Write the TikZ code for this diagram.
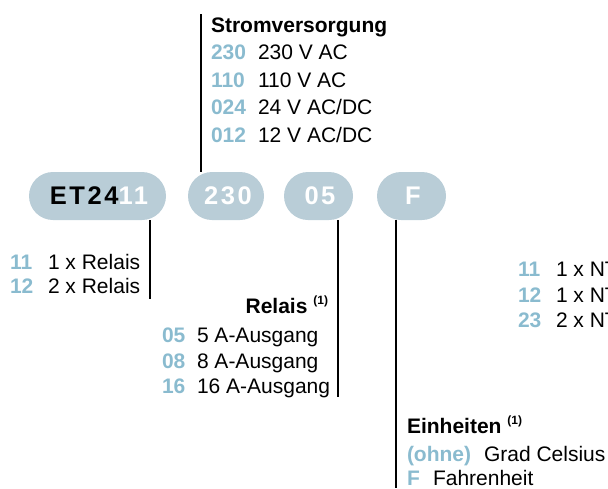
\documentclass[tikz,border=0pt]{standalone}
\usepackage{fontspec}
\setmainfont{Liberation Sans}
\definecolor{pillfill}{HTML}{B9CDD7}
\definecolor{codeblue}{HTML}{8ABBCF}
\begin{document}
\begin{tikzpicture}[x=1pt,y=-1pt,
  every node/.style={inner sep=0pt,outer sep=0pt,font=\fontsize{21}{24}\selectfont},
  pill/.style={fill=pillfill,draw=none,rounded corners=24pt},
  pilltext/.style={anchor=center,text=white,font=\fontsize{25.5}{28}\selectfont\bfseries\addfontfeature{LetterSpace=10}},
  code/.style={anchor=base west,text=codeblue,font=\fontsize{21}{24}\selectfont\bfseries},
  desc/.style={anchor=base west,text=black},
  head/.style={text=black,font=\fontsize{21}{24}\selectfont\bfseries},
  supnote/.style={font=\fontsize{12}{14}\selectfont\bfseries},
  bar/.style={line width=2pt,black}
]
\useasboundingbox (0,0) rectangle (608,488);
\clip (0,0) rectangle (608,488);
% pills
\fill[pill] (29,172) rectangle (166,220);
\fill[pill] (188,172) rectangle (264,220);
\fill[pill] (284,172) rectangle (353,220);
\fill[pill] (377,172) rectangle (446,220);
\node[pilltext] (pA) at (99,196) {\textcolor{black}{ET24}11};
\node[pilltext] (pB) at (228,196) {230};
\node[pilltext] (pC) at (320,196) {05};
\node[pilltext] (pD) at (413,196) {F};
% anchor coordinates for bars
\coordinate (sTop) at (201,14);
\coordinate (sBot) at (201,172);
\coordinate (aTop) at (150,220);
\coordinate (aBot) at (150,299);
\coordinate (cTop) at (338,220);
\coordinate (cBot) at (338,397);
\coordinate (dTop) at (396,220);
\coordinate (dBot) at (396,488);
\draw[bar] (sTop) -- (sBot);
\draw[bar] (aTop) -- (aBot);
\draw[bar] (cTop) -- (cBot);
\draw[bar] (dTop) -- (dBot);
% Stromversorgung
\node[head,anchor=base west] (sh) at (211,32) {Stromversorgung};
\node[code] (s1c) at (211,59) {230}; \node[desc] (s1d) at (258,59) {230 V AC};
\node[code] (s2c) at (211,87) {110}; \node[desc] (s2d) at (258,87) {110 V AC};
\node[code] (s3c) at (211,114.5) {024}; \node[desc] (s3d) at (258,114.5) {24 V AC/DC};
\node[code] (s4c) at (211,142) {012}; \node[desc] (s4d) at (258,142) {12 V AC/DC};
% Relais count
\node[code] (a1c) at (10,269) {11}; \node[desc] (a1d) at (48,269) {1 x Relais};
\node[code] (a2c) at (10,293) {12}; \node[desc] (a2d) at (48,293) {2 x Relais};
% Relais output
\node[head,anchor=base east] (ch) at (328,313) {Relais \raisebox{0.42em}{\fontsize{12}{14}\selectfont\bfseries (1)}};
\node[code] (c1c) at (162,342) {05}; \node[desc] (c1d) at (197,342) {5 A-Ausgang};
\node[code] (c2c) at (162,368) {08}; \node[desc] (c2d) at (197,368) {8 A-Ausgang};
\node[code] (c3c) at (162,393) {16}; \node[desc] (c3d) at (197,393) {16 A-Ausgang};
% NT
\node[code] (n1c) at (518,276) {11}; \node[desc] (n1d) at (556,276) {1 x NT};
\node[code] (n2c) at (518,302) {12}; \node[desc] (n2d) at (556,302) {1 x NT};
\node[code] (n3c) at (518,327) {23}; \node[desc] (n3d) at (556,327) {2 x NT};
% Einheiten
\node[head,anchor=base west] (dh) at (407,433) {Einheiten \raisebox{0.42em}{\fontsize{12}{14}\selectfont\bfseries (1)}};
\node[code] (d1c) at (407,461) {(ohne)}; \node[desc] (d1d) at (484,461) {Grad Celsius};
\node[code] (d2c) at (407,485) {F}; \node[desc] (d2d) at (433,485) {Fahrenheit};
\end{tikzpicture}
\end{document}
